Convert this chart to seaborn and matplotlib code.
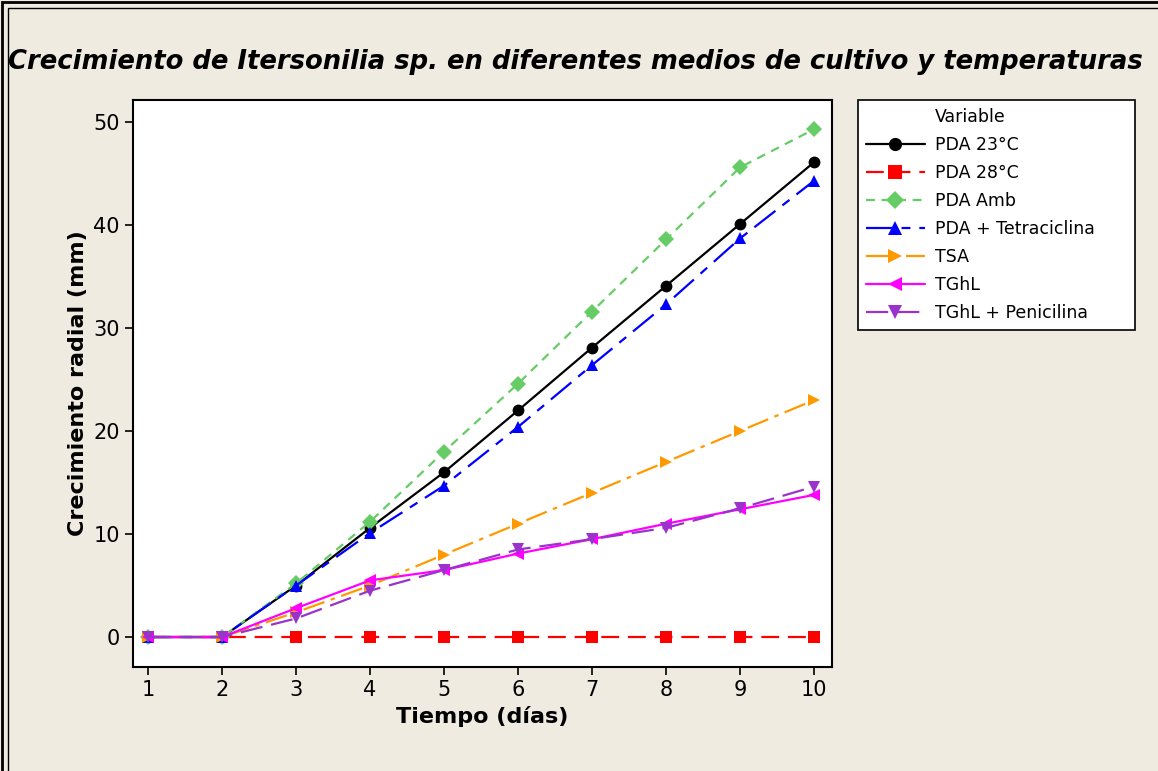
import numpy as np
import pandas as pd
import matplotlib
matplotlib.use("Agg")
import matplotlib.pyplot as plt
import seaborn as sns
from matplotlib.patches import Rectangle
from matplotlib.lines import Line2D

# --- Data ---
dias = [1, 2, 3, 4, 5, 6, 7, 8, 9, 10]
series_names = ["PDA 23°C", "PDA 28°C", "PDA Amb", "PDA + Tetraciclina",
                "TSA", "TGhL", "TGhL + Penicilina"]
pda_23 = [0, 0, 5.0, 10.6, 16.0, 22.0, 28.1, 34.1, 40.1, 46.1]
pda_28 = [0, 0, 0, 0, 0, 0, 0, 0, 0, 0]
pda_amb = [0, 0, 5.2, 11.2, 18.0, 24.6, 31.6, 38.6, 45.6, 49.3]
pda_tetra = [0, 0, 5.0, 10.1, 14.7, 20.4, 26.4, 32.3, 38.7, 44.3]
tsa = [0, 0, 2.4, 5.0, 8.0, 11.0, 14.0, 17.0, 20.0, 23.0]
tghl = [0, 0, 2.8, 5.5, 6.5, 8.1, 9.5, 11.0, 12.4, 13.8]
tghl_pen = [0, 0, 1.8, 4.5, 6.5, 8.5, 9.5, 10.6, 12.5, 14.6]

values = [pda_23, pda_28, pda_amb, pda_tetra, tsa, tghl, tghl_pen]
df = pd.DataFrame({
    "Tiempo": dias * len(series_names),
    "Crecimiento": np.concatenate(values),
    "Variable": np.repeat(series_names, len(dias)),
})

# --- Styles ---
colors = {"PDA 23°C": "black", "PDA 28°C": "#FF0000", "PDA Amb": "#66CC66",
          "PDA + Tetraciclina": "#0000FF", "TSA": "#FF9900", "TGhL": "#FF00FF",
          "TGhL + Penicilina": "#9933CC"}
markers = {"PDA 23°C": "o", "PDA 28°C": "s", "PDA Amb": "D",
           "PDA + Tetraciclina": "^", "TSA": ">", "TGhL": "<",
           "TGhL + Penicilina": "v"}
dashes = {"PDA 23°C": "", "PDA 28°C": (8, 4), "PDA Amb": (4, 3),
          "PDA + Tetraciclina": (12, 4, 4, 4), "TSA": (10, 3, 2, 3),
          "TGhL": "", "TGhL + Penicilina": (10, 4)}
msize = {"o": 8, "s": 8, "D": 7.5, "^": 9, ">": 9, "<": 9, "v": 9}

bg = "#EFEBE1"
sns.set_style("ticks")
plt.rcParams["font.family"] = ["DejaVu Sans"]
plt.rcParams["text.color"] = "black"
plt.rcParams["axes.labelcolor"] = "black"
plt.rcParams["xtick.color"] = "black"
plt.rcParams["ytick.color"] = "black"
plt.rcParams["axes.edgecolor"] = "black"

fig = plt.figure(figsize=(11.58, 7.71), dpi=100, facecolor=bg)
ax = fig.add_axes([0.1149, 0.1349, 0.6036, 0.7354])

sns.lineplot(data=df, x="Tiempo", y="Crecimiento", hue="Variable", style="Variable",
             palette=colors, markers=markers, dashes=dashes, markersize=8.5,
             markeredgewidth=0, linewidth=1.6, ax=ax, legend=False)

ax.set_xlim(0.797, 10.243)
ax.set_ylim(-2.91, 52.14)
ax.set_xticks(dias)
ax.set_yticks([0, 10, 20, 30, 40, 50])
ax.tick_params(labelsize=15, length=6, width=1.2)
for s in ax.spines.values():
    s.set_visible(True)
    s.set_linewidth(1.5)
ax.set_xlabel("Tiempo (días)", fontsize=16, fontweight="bold")
ax.set_ylabel("Crecimiento radial (mm)", fontsize=16, fontweight="bold")

# legend: "Variable" as a first entry without a handle, so it lines up with labels
handles = [Line2D([0], [0], color="none", label="Variable")]
for n in series_names:
    d = dashes[n]
    ls = "-" if d == "" else (0, d)
    handles.append(Line2D([0], [0], color=colors[n], marker=markers[n],
                          markersize=msize[markers[n]] + 1.5, markeredgewidth=0,
                          linestyle=ls, linewidth=1.6, label=n))
leg = fig.legend(handles=handles, loc="upper left",
                 bbox_to_anchor=(858 / 1158, 1 - 331 / 771, 277 / 1158, 231 / 771),
                 mode="expand", fontsize=12.5,
                 frameon=True, fancybox=False, edgecolor="black", facecolor="white",
                 framealpha=1, handlelength=3.4, labelspacing=0.58, borderpad=0.45,
                 borderaxespad=0, handletextpad=0.6)
leg.get_frame().set_linewidth(1.2)

fig.text(8 / 1158, 1 - 62 / 771, "Crecimiento de Itersonilia sp. en diferentes medios de cultivo y temperaturas",
         fontsize=18.6, fontweight="bold", fontstyle="italic", ha="left", va="center")

# double border
fig.patches.append(Rectangle((2 / 1158, -0.1), 1.1, 1.1 - 2 / 771, transform=fig.transFigure,
                             fill=False, edgecolor="black", linewidth=2))
fig.patches.append(Rectangle((8 / 1158, -0.1), 1.1, 1.1 - 8 / 771, transform=fig.transFigure,
                             fill=False, edgecolor="black", linewidth=1))

fig.savefig("out.png", dpi=100, facecolor=bg)
